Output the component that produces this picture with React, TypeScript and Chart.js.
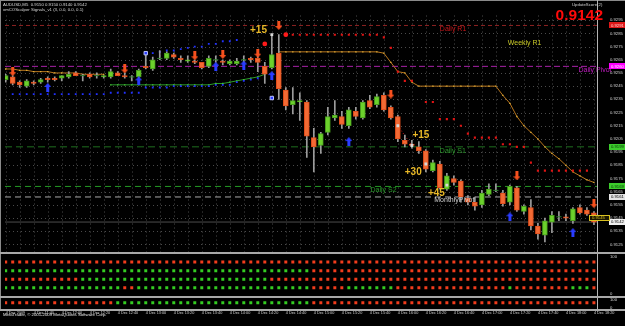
import React, { useEffect, useRef } from "react";
import { Chart, registerables } from "chart.js";
Chart.register(...registerables);

const FONT = "'Liberation Sans', Arial, sans-serif";

// ---- data (AUDUSD M5, 4 Dec 2009, 11:20 .. 18:20, one entry per bar) ----
const opens = [0.9250,0.9252,0.9248,0.9245,0.9248,0.9248,0.9251,0.9251,0.9251,0.9252,0.9255,0.9253,0.9254,0.9253,0.9252,0.9252,0.9255,0.9253,0.9252,0.9252,0.9260,0.9258,0.9266,0.9266,0.9269,0.9266,0.9264,0.9264,0.9263,0.9260,0.9265,0.9264,0.9262,0.9262,0.9265,0.9266,0.9266,0.9260,0.9259,0.9270,0.9242,0.9231,0.9233,0.9233,0.9206,0.9200,0.9210,0.9221,0.9222,0.9215,0.9226,0.9221,0.9234,0.9231,0.9238,0.9229,0.9222,0.9204,0.9201,0.9199,0.9196,0.9181,0.9186,0.9167,0.9175,0.9173,0.9160,0.9157,0.9155,0.9163,0.9166,0.9164,0.9157,0.9168,0.9150,0.9153,0.9139,0.9132,0.9142,0.9146,0.9146,0.9143,0.9153,0.9151,0.9149];
const highs = [0.9254,0.9253,0.9249,0.9250,0.9249,0.9251,0.9252,0.9252,0.9253,0.9256,0.9256,0.9254,0.9255,0.9255,0.9253,0.9258,0.9256,0.9255,0.9253,0.9258,0.9270,0.9267,0.9272,0.9271,0.9270,0.9268,0.9268,0.9265,0.9263,0.9268,0.9268,0.9265,0.9265,0.9266,0.9268,0.9267,0.9268,0.9263,0.9284,0.9284,0.9244,0.9244,0.9240,0.9234,0.9213,0.9210,0.9229,0.9234,0.9226,0.9229,0.9229,0.9234,0.9238,0.9239,0.9240,0.9230,0.9223,0.9208,0.9204,0.9203,0.9197,0.9189,0.9188,0.9179,0.9177,0.9174,0.9162,0.9161,0.9166,0.9171,0.9171,0.9166,0.9170,0.9169,0.9155,0.9159,0.9141,0.9145,0.9150,0.9150,0.9148,0.9153,0.9155,0.9153,0.9150];
const lows = [0.9248,0.9246,0.9244,0.9244,0.9246,0.9247,0.9248,0.9249,0.9249,0.9251,0.9253,0.9249,0.9251,0.9251,0.9251,0.9251,0.9253,0.9251,0.9249,0.9251,0.9258,0.9257,0.9265,0.9265,0.9266,0.9263,0.9263,0.9262,0.9258,0.9259,0.9263,0.9261,0.9261,0.9261,0.9262,0.9263,0.9256,0.9247,0.9258,0.9235,0.9227,0.9224,0.9219,0.9191,0.9180,0.9194,0.9208,0.9219,0.9213,0.9213,0.9220,0.9220,0.9228,0.9229,0.9226,0.9220,0.9203,0.9199,0.9198,0.9194,0.9180,0.9180,0.9167,0.9166,0.9170,0.9157,0.9155,0.9151,0.9153,0.9162,0.9165,0.9154,0.9155,0.9150,0.9148,0.9136,0.9129,0.9127,0.9134,0.9143,0.9143,0.9141,0.9148,0.9147,0.9140];
const closes = [0.9253,0.9247,0.9246,0.9249,0.9247,0.9250,0.9250,0.9250,0.9253,0.9254,0.9253,0.9253,0.9252,0.9253,0.9253,0.9256,0.9253,0.9252,0.9252,0.9257,0.9259,0.9265,0.9266,0.9270,0.9267,0.9265,0.9265,0.9263,0.9259,0.9266,0.9265,0.9263,0.9264,0.9264,0.9265,0.9265,0.9263,0.9254,0.9269,0.9243,0.9230,0.9234,0.9234,0.9207,0.9199,0.9209,0.9222,0.9223,0.9216,0.9227,0.9222,0.9233,0.9229,0.9237,0.9227,0.9221,0.9205,0.9201,0.9200,0.9196,0.9182,0.9187,0.9168,0.9177,0.9172,0.9161,0.9157,0.9154,0.9164,0.9167,0.9166,0.9156,0.9169,0.9151,0.9154,0.9139,0.9133,0.9143,0.9147,0.9146,0.9145,0.9152,0.9149,0.9148,0.9142];

const timeLabels = ["4 Dec 2009","4 Dec 11:40","4 Dec 12:00","4 Dec 12:20","4 Dec 12:40","4 Dec 13:00","4 Dec 13:20","4 Dec 13:40","4 Dec 14:00","4 Dec 14:20","4 Dec 14:40","4 Dec 15:00","4 Dec 15:20","4 Dec 15:40","4 Dec 16:00","4 Dec 16:20","4 Dec 16:40","4 Dec 17:00","4 Dec 17:20","4 Dec 17:40","4 Dec 18:00","4 Dec 18:20"];
const priceTicks = [0.9125,0.9135,0.9145,0.9155,0.9165,0.9175,0.9185,0.9195,0.9205,0.9215,0.9225,0.9235,0.9245,0.9255,0.9265,0.9275,0.9285,0.9295];

// trailing stop line (two segments)
const trailAStart = 0;
const trailA = [0.9258,0.9258,0.9257,0.9257,0.9256,0.9256,0.9256,0.9255,0.9255,0.9255,0.9255,0.9254,0.9254,0.9254,0.9254];
const trailBStart = 39;
const trailB = [0.9271,0.9271,0.9271,0.9271,0.9271,0.9271,0.9271,0.9271,0.9271,0.9271,0.9271,0.9271,0.9271,0.9271,0.9271,0.9270,0.9263,0.9256,0.9255,0.9248,0.9245,0.9245,0.9245,0.9245,0.9245,0.9245,0.9245,0.9245,0.9245,0.9245,0.9245,0.9245,0.9238,0.9232,0.9222,0.9215,0.9210,0.9205,0.9199,0.9194,0.9190,0.9185,0.9180,0.9177,0.9174,0.9172];
// green average
const maStart = 15;
const maLine = [0.9246,0.9246,0.9246,0.9246,0.9246,0.9246,0.9246,0.9246,0.9246,0.9246,0.9246,0.9246,0.9246,0.9246,0.9246,0.9247,0.9247,0.9248,0.9249,0.9250,0.9251,0.9252,0.9254];
// blue dotted bands
const lowerBandStart = 1;
const lowerBand = [0.9239,0.9239,0.9239,0.9239,0.9239,0.9239,0.9239,0.9239,0.9239,0.9239,0.9239,0.9239,0.9239,0.9239,0.9240,0.9240,0.9240,0.9240,0.9240,0.9244,0.9244,0.9244,0.9244,0.9245,0.9245,0.9245,0.9245,0.9245,0.9245,0.9246,0.9246,0.9246,0.9248,0.9249,0.9250,0.9251];
const upperBandStart = 20;
const upperBand = [0.9270,0.9270,0.9271,0.9272,0.9272,0.9273,0.9274,0.9275,0.9275,0.9277,0.9277,0.9279,0.9279,0.9280];
// red stop dots
const sarStart = 41;
const sarDots = [0.9284,0.9284,0.9284,0.9284,0.9284,0.9284,0.9284,0.9284,0.9284,0.9284,0.9284,0.9284,0.9284,0.9282,0.9274,0.9256,0.9249,0.9249,null,0.9233,0.9233,0.9220,0.9220,0.9220,0.9215,0.9209,0.9206,0.9206,0.9206,0.9206,0.9201,0.9201,0.9199,0.9199,0.9187,0.9181,0.9181,0.9181,0.9181,0.9181,0.9181,0.9181,0.9181];
const bigDotBars = [37, 40];
const bigDotPrices = [0.9277, 0.9284];
const tradeMarkBars = [38, 56, 58, 60, 63];
const tradeMarkPrices = [0.9284, 0.9215, 0.9200, 0.9186, 0.9170];
const blueMarkBars = [20, 38];
const blueMarkPrices = [0.9270, 0.9236];
const tradeLineBars = [56, 58];
const tradeLinePrices = [0.9215, 0.9200];

const sellArrowBars = [1, 17, 27, 31, 36, 39, 55, 73, 84];
const sellArrowPrices = [0.9256, 0.9258, 0.9268, 0.9269, 0.9270, 0.9291, 0.9239, 0.9177, 0.9156];
const buyArrowBars = [6, 19, 30, 34, 38, 49, 72, 81];
const buyArrowPrices = [0.9244, 0.9249, 0.9260, 0.9261, 0.9253, 0.9203, 0.9146, 0.9134];

const pivotNames = ["Daily R1", "Daily Pivot", "Daily S1", "Daily S2", "MonthlyPivot"];
const pivotLevels = [0.9291, 0.9260, 0.9199, 0.9169, 0.9161];
const pivotTextBars = [62.0, 81.8, 62.0, 52.1, 61.2];
const pivotTextPrices = [0.9288, 0.9257, 0.9196, 0.9166, 0.9159];
const weeklyText = "Weekly R1";
const weeklyTextBar = 71.7;
const weeklyTextPrice = 0.9278;
const bidPrice = 0.9142;
const stopLabelPrice = 0.9145;

const profitTexts = ["+15", "+15", "+30", "+45"];
const profitBars = [36.1, 59.3, 58.2, 61.5];
const profitPrices = [0.9287, 0.9208, 0.9180, 0.9164];

// signal panel rows (G = green, R = red), one letter per bar
const panelRows = [
  "RRRRRRRRRR RRRRRRRRRR RRRRRRRRRR RRRRRRRRRR RRRRRRRRRR RRRRRRRRRR RRRRRRRRRR RRRRRRRRRR RRRRR",
  "GGGGGGGGGG GGGGGGGGGG GGGGGGGGGG GGGGGGGGGG GGGGRRRRRR RRRRRRRRRR RRRRRRRRRR RRRRRRRRRR RRRRR",
  "RRRRRRRRRR RGGGGGGGGG GGGGGGGGGG GGGGGGGGRR RRRRRRRRRR RRRRRRRRRR RRRRRRRRRR RRRRRRRRRR RRRRR",
  "GGGGGGGGGG GGGGGGGRRG GGGGGGGGGG GGGGGGGGGG GGGGRRRRRG GGGGGGRRRR RRRRRRRRRR RRGRRRRRRR RGGGR",
];
const panelRowLevels = [85, 62, 39, 16];
const lowerRow = "RRRRRRRRRR RRRRRRGGGG GGGGGGGGGG GGGGGGGGGG GGGGRRRRRR RRRRRRRRRR RRRRRRRRRR RRRRRRRRRR RRRRR";
const lowerRowLevel = 66;

// ---- scale ranges ----
const X_MIN = -0.1;
const X_MAX = 84.44;
const Y_MIN = 0.91187;
const Y_MAX = 0.929853;

const RED_DOT = "#f23c1c";
const GREEN_DOT = "#34cc22";

function makeArrow(color: string, up: boolean) {
  const c = document.createElement("canvas");
  c.width = 7;
  c.height = 9;
  const g = c.getContext("2d")!;
  g.fillStyle = color;
  g.beginPath();
  if (up) {
    g.moveTo(3.5, 0); g.lineTo(7, 4); g.lineTo(5, 4); g.lineTo(5, 9); g.lineTo(2, 9); g.lineTo(2, 4); g.lineTo(0, 4);
  } else {
    g.moveTo(3.5, 9); g.lineTo(7, 5); g.lineTo(5, 5); g.lineTo(5, 0); g.lineTo(2, 0); g.lineTo(2, 5); g.lineTo(0, 5);
  }
  g.closePath();
  g.fill();
  return c;
}

const seriesPts = (start: number, vals: (number | null)[]) => vals.map((v, k) => ({ x: start + k, y: v }));
const pairPts = (bars: number[], prices: number[]) => bars.map((b, k) => ({ x: b, y: prices[k] }));
const rowColors = (s: string) => s.replace(/ /g, "").split("").map((ch) => (ch === "G" ? GREEN_DOT : RED_DOT));

function txt(ctx: CanvasRenderingContext2D, s: string, x: number, y: number, font: string, color: string, align: CanvasTextAlign = "left") {
  ctx.font = font;
  ctx.fillStyle = color;
  ctx.textAlign = align;
  ctx.textBaseline = "middle";
  ctx.fillText(s, x, y);
}

const mtPlugin = {
  id: "mt",
  beforeDraw(chart: any) {
    const { ctx, width, height } = chart;
    ctx.save();
    ctx.fillStyle = "#000";
    ctx.fillRect(0, 0, width, height);
    ctx.restore();
  },
  beforeDatasetsDraw(chart: any) {
    const { ctx, chartArea } = chart;
    const xs = chart.scales.x;
    const ys = chart.scales.y;
    ctx.save();
    ctx.strokeStyle = "#4a4a4a";
    ctx.lineWidth = 1;
    ctx.setLineDash([1, 3]);
    xs.ticks.forEach((t: any) => {
      const px = Math.round(xs.getPixelForValue(t.value)) + 0.5;
      ctx.beginPath(); ctx.moveTo(px, ys.top); ctx.lineTo(px, ys.bottom); ctx.stroke();
    });
    ys.ticks.forEach((t: any) => {
      const py = Math.round(ys.getPixelForValue(t.value)) + 0.5;
      ctx.beginPath(); ctx.moveTo(chartArea.left, py); ctx.lineTo(chartArea.right, py); ctx.stroke();
    });
    ctx.restore();
  },
  afterDatasetsDraw(chart: any) {
    const { ctx, chartArea, width } = chart;
    const xs = chart.scales.x;
    const ys = chart.scales.y;
    const y2 = chart.scales.y2;
    const y3 = chart.scales.y3;
    ctx.save();
    const lvlColors = ["#c8161a", "#c41cc4", "#2c9a2c", "#2c9a2c", "#d0d0d0"];
    pivotNames.forEach((n, k) => {
      txt(ctx, n, xs.getPixelForValue(pivotTextBars[k]), ys.getPixelForValue(pivotTextPrices[k]), `7px ${FONT}`, lvlColors[k]);
    });
    txt(ctx, weeklyText, xs.getPixelForValue(weeklyTextBar), ys.getPixelForValue(weeklyTextPrice), `7px ${FONT}`, "#c8c828");
    profitTexts.forEach((s, k) => {
      txt(ctx, s, xs.getPixelForValue(profitBars[k]), ys.getPixelForValue(profitPrices[k]), `bold 10px ${FONT}`, "#e8b828", "center");
    });

    // frames and panel separators
    ctx.fillStyle = "#8a8a8a";
    ctx.fillRect(0, 0, width, 1);
    ctx.fillRect(0, 0, 1, chartArea.bottom);
    ctx.fillStyle = "#b4b4b4";
    ctx.fillRect(chartArea.right, 0, 1, chartArea.bottom + 1);
    ctx.fillStyle = "#a8a8a8";
    [y2.top, y3.top, chartArea.bottom].forEach((t: number) => {
      ctx.fillRect(0, Math.round(t) - 1, width, 2);
    });

    // axis price boxes
    const boxPrices = [...pivotLevels, bidPrice];
    const boxBg = ["#e01818", "#ff00ff", "#3ccc2c", "#3ccc2c", "#e4e4e4", "#f0f0f0"];
    const boxFg = ["#ffd0d0", "#ffffff", "#083808", "#083808", "#000000", "#000000"];
    const small = `4.2px ${FONT}`;
    boxPrices.forEach((p, k) => {
      const py = ys.getPixelForValue(p);
      ctx.fillStyle = boxBg[k];
      ctx.fillRect(609, Math.round(py) - 3, 16, 6);
      txt(ctx, p.toFixed(4), 611, py, small, boxFg[k]);
    });
    const sy = ys.getPixelForValue(stopLabelPrice);
    ctx.fillStyle = "#1a1600";
    ctx.fillRect(589, Math.round(sy) - 3, 21, 6);
    ctx.strokeStyle = "#d8c020";
    ctx.lineWidth = 1;
    ctx.strokeRect(589.5, Math.round(sy) - 2.5, 20, 5);
    txt(ctx, stopLabelPrice.toFixed(4), 592, sy, small, "#d8c020");

    // header texts
    txt(ctx, "AUDUSD,M5  0.9150 0.9150 0.9140 0.9142", 3, 4.5, `4.3px ${FONT}`, "#d8d8d8");
    txt(ctx, "xmCOScalper Signals_v1 (3, 0.0, 0.0, 0.1)", 3, 9.5, `4.3px ${FONT}`, "#d8d8d8");
    txt(ctx, "UpdateScore(2)", 572, 5, `4.3px ${FONT}`, "#d0d0d0");
    txt(ctx, bidPrice.toFixed(4), 603, 16, `bold 15.5px ${FONT}`, "#ff0a0a", "right");
    txt(ctx, "MetaTrader, \u00a9 2001-2009 MetaQuotes Software Corp.", 3, 315, `4.3px ${FONT}`, "#e8e8e8");
    ctx.restore();
  },
};

export default function App() {
  const ref = useRef<HTMLCanvasElement>(null);
  useEffect(() => {
    const bull: any[] = [];
    const bear: any[] = [];
    const doji: any[] = [];
    const wicks: any[] = [];
    opens.forEach((o, i) => {
      const c = closes[i];
      wicks.push({ x: i, y: [lows[i], highs[i]] });
      if (c > o) bull.push({ x: i, y: [o, c] });
      else if (c < o) bear.push({ x: i, y: [c, o] });
      else doji.push({ x: i, y: o });
    });
    const sellArrow = makeArrow("#f6501e", false);
    const buyArrow = makeArrow("#2a3cff", true);
    const levelColors = ["#8e2222", "#a822a8", "#1f6f1f", "#249a24", "#a8a8a8"];
    const levelDashes = [[4, 3], [6, 3], [7, 4], [6, 4], [6, 4]];
    const allBars = opens.map((_, i) => i);

    const levelSets = pivotLevels.map((lv, k) => ({
      type: "line",
      data: [{ x: X_MIN, y: lv }, { x: X_MAX, y: lv }],
      borderColor: levelColors[k],
      borderDash: levelDashes[k],
      borderWidth: 1,
      pointRadius: 0,
      order: 30,
      yAxisID: "y",
    }));

    const rowSets = panelRows.map((row, k) => ({
      type: "line",
      showLine: false,
      data: allBars.map((i) => ({ x: i, y: panelRowLevels[k] })),
      pointStyle: "rect",
      pointRadius: 2.1,
      pointBorderWidth: 0,
      pointBackgroundColor: rowColors(row),
      yAxisID: "y2",
      order: 1,
    }));

    const chart = new Chart(ref.current!, {
      type: "bar",
      data: {
        datasets: [
          ...levelSets,
          {
            type: "line",
            data: [{ x: X_MIN, y: bidPrice }, { x: X_MAX, y: bidPrice }],
            borderColor: "#4c4c4c", borderWidth: 1, pointRadius: 0, order: 31, yAxisID: "y",
          },
          {
            type: "line", data: seriesPts(lowerBandStart, lowerBand), showLine: false,
            pointStyle: "rect", pointRadius: 1.3, pointBorderWidth: 0, pointBackgroundColor: "#2232ff", order: 12, yAxisID: "y",
          },
          {
            type: "line", data: seriesPts(upperBandStart, upperBand), showLine: false,
            pointStyle: "rect", pointRadius: 1.3, pointBorderWidth: 0, pointBackgroundColor: "#2232ff", order: 12, yAxisID: "y",
          },
          {
            type: "line", data: seriesPts(maStart, maLine), borderColor: "#2a9a2a", borderWidth: 1,
            pointStyle: "rect", pointRadius: 0.9, pointBorderWidth: 0, pointBackgroundColor: "#4ccc3c", order: 12, yAxisID: "y",
          },
          {
            type: "line", data: seriesPts(trailAStart, trailA), borderColor: "#b8761e", borderWidth: 1,
            pointStyle: "rect", pointRadius: 0.9, pointBorderWidth: 0, pointBackgroundColor: "#e6b43a", order: 12, yAxisID: "y",
          },
          {
            type: "line", data: seriesPts(trailBStart, trailB), borderColor: "#b8761e", borderWidth: 1,
            pointStyle: "rect", pointRadius: 0.9, pointBorderWidth: 0, pointBackgroundColor: "#e6b43a", order: 12, yAxisID: "y",
          },
          {
            type: "line", data: pairPts(tradeLineBars, tradeLinePrices), borderColor: "#d02020", borderWidth: 1,
            borderDash: [1, 2], pointRadius: 0, order: 11, yAxisID: "y",
          },
          {
            type: "bar", data: wicks, backgroundColor: "#9c9c9c", barThickness: 1, grouped: false, order: 8, yAxisID: "y",
          },
          {
            type: "bar", data: bull, backgroundColor: "#6cd12c", borderColor: "#469a1c", borderWidth: 1,
            borderSkipped: false, barThickness: 5, grouped: false, order: 7, yAxisID: "y",
          },
          {
            type: "bar", data: bear, backgroundColor: "#f36a34", borderColor: "#de4c1a", borderWidth: 1,
            borderSkipped: false, barThickness: 5, grouped: false, order: 7, yAxisID: "y",
          },
          {
            type: "line", data: doji, showLine: false, pointStyle: "line", pointRadius: 2.6,
            pointBorderWidth: 1, pointBorderColor: "#2e7d2e", order: 6, yAxisID: "y",
          },
          {
            type: "line", data: seriesPts(sarStart, sarDots), showLine: false,
            pointStyle: "rect", pointRadius: 1.5, pointBorderWidth: 0, pointBackgroundColor: "#e01414", order: 5, yAxisID: "y",
          },
          {
            type: "line", data: pairPts(bigDotBars, bigDotPrices), showLine: false,
            pointStyle: "circle", pointRadius: 2.4, pointBorderWidth: 0, pointBackgroundColor: "#ff1a1a", order: 5, yAxisID: "y",
          },
          {
            type: "line", data: pairPts(tradeMarkBars, tradeMarkPrices), showLine: false,
            pointStyle: "rect", pointRadius: 2, pointBorderWidth: 0, pointBackgroundColor: "#d8d8d8", order: 4, yAxisID: "y",
          },
          {
            type: "line", data: pairPts(blueMarkBars, blueMarkPrices), showLine: false,
            pointStyle: "rect", pointRadius: 2.4, pointBorderWidth: 1, pointBorderColor: "#b8c0ff", pointBackgroundColor: "#2a3cff", order: 4, yAxisID: "y",
          },
          {
            type: "line", data: pairPts(sellArrowBars, sellArrowPrices), showLine: false,
            pointStyle: sellArrow, pointRadius: 4, order: 2, yAxisID: "y",
          },
          {
            type: "line", data: pairPts(buyArrowBars, buyArrowPrices), showLine: false,
            pointStyle: buyArrow, pointRadius: 4, order: 2, yAxisID: "y",
          },
          ...rowSets,
          {
            type: "line", showLine: false,
            data: allBars.map((i) => ({ x: i, y: lowerRowLevel })),
            pointStyle: "rect", pointRadius: 2.1, pointBorderWidth: 0,
            pointBackgroundColor: rowColors(lowerRow), yAxisID: "y3", order: 1,
          },
        ] as any,
      },
      options: {
        animation: false,
        responsive: true,
        maintainAspectRatio: false,
        events: [],
        layout: { padding: { top: 2, left: 1, right: 0, bottom: 0 } },
        plugins: { legend: { display: false }, tooltip: { enabled: false } },
        scales: {
          x: {
            type: "linear", min: X_MIN, max: X_MAX, offset: false,
            afterBuildTicks: (s: any) => { s.ticks = allBars.filter((i) => i % 2 === 0).map((v) => ({ value: v })); },
            afterFit: (s: any) => { s.height = 7; },
            grid: { display: false, drawTicks: false },
            border: { display: false },
            ticks: {
              autoSkip: false, maxRotation: 0, minRotation: 0, align: "start", padding: 0.5,
              color: "#cfcfcf", font: { family: FONT, size: 3.8 },
              callback: (v: any) => (Number(v) % 4 === 0 ? timeLabels[Number(v) / 4] : ""),
            },
          },
          y: {
            type: "linear", position: "right", stack: "panes", stackWeight: 255, min: Y_MIN, max: Y_MAX,
            afterBuildTicks: (s: any) => { s.ticks = priceTicks.map((v) => ({ value: v })); },
            afterFit: (s: any) => { s.width = 28; },
            grid: { display: false, drawTicks: false },
            border: { display: false },
            ticks: { autoSkip: false, padding: 13, color: "#cfcfcf", font: { family: FONT, size: 4.2 }, callback: (v: any) => Number(v).toFixed(4) },
          },
          y2: {
            type: "linear", position: "right", stack: "panes", stackWeight: 48, min: -10, max: 110,
            afterBuildTicks: (s: any) => { s.ticks = [{ value: 100 }, { value: 0 }]; },
            afterFit: (s: any) => { s.width = 28; },
            grid: { display: false, drawTicks: false },
            border: { display: false },
            ticks: { autoSkip: false, padding: 13, color: "#cfcfcf", font: { family: FONT, size: 4.2 }, callback: (v: any) => String(v) },
          },
          y3: {
            type: "linear", position: "right", stack: "panes", stackWeight: 14, min: -37.5, max: 137.5,
            afterBuildTicks: (s: any) => { s.ticks = [{ value: 100 }, { value: 0 }]; },
            afterFit: (s: any) => { s.width = 28; },
            grid: { display: false, drawTicks: false },
            border: { display: false },
            ticks: { autoSkip: false, padding: 13, color: "#cfcfcf", font: { family: FONT, size: 4.2 }, callback: (v: any) => String(v) },
          },
        },
      } as any,
      plugins: [mtPlugin],
    });
    return () => chart.destroy();
  }, []);
  return (
    <div style={{ position: "fixed", left: 0, top: 0, width: 625, height: 326, background: "#000" }}>
      <canvas ref={ref} />
    </div>
  );
}
